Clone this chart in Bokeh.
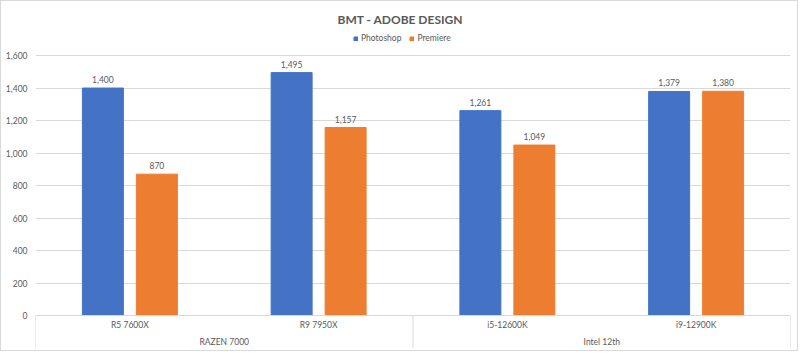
from bokeh.plotting import figure
from bokeh.models import (ColumnDataSource, Range1d, FixedTicker, NumeralTickFormatter,
                          LabelSet, Legend, LegendItem, Span)
from bokeh.core.properties import value
from bokeh.embed import file_html
from bokeh.resources import INLINE

# ---- data ----
groups = ["RAZEN 7000", "Intel 12th"]
group_sizes = [2, 2]
cpus = ["R5 7600X", "R9 7950X", "i5-12600K", "i9-12900K"]
photoshop = [1400, 1495, 1261, 1379]
premiere = [870, 1157, 1049, 1380]
y_ticks = [0, 200, 400, 600, 800, 1000, 1200, 1400, 1600]

FONT = "Lato"
TXT = "#595959"
BLUE = "#4472C4"
ORANGE = "#ED7D31"

centers = [i + 0.5 for i in range(len(cpus))]
off = 0.143
bw = 0.217

src_p = ColumnDataSource(dict(x=[c - off for c in centers], top=photoshop,
                              lbl=[f"{v:,}" for v in photoshop]))
src_r = ColumnDataSource(dict(x=[c + off for c in centers], top=premiere,
                              lbl=[f"{v:,}" for v in premiere]))

p = figure(width=798, height=351, output_backend="svg", toolbar_location=None,
           x_range=Range1d(0, len(cpus)), y_range=Range1d(-203, 1748),
           min_border_left=34, min_border_right=9, min_border_top=30, min_border_bottom=4,
           styles={"border": "1px solid #d9d9d9"})

p.title.text = "BMT - ADOBE DESIGN"
p.title.align = "left"
p.title.offset = 302
p.title.text_font = FONT
p.title.text_font_size = "12px"
p.title.text_font_style = "bold"
p.title.text_color = TXT

p.outline_line_color = None
p.xaxis.visible = False
p.xgrid.visible = False
p.yaxis.ticker = FixedTicker(ticks=y_ticks)
p.yaxis.formatter = NumeralTickFormatter(format="0,0")
p.yaxis.axis_line_color = None
p.yaxis.major_tick_line_color = None
p.yaxis.minor_tick_line_color = None
p.yaxis.major_tick_out = 0
p.yaxis.major_tick_in = 0
p.yaxis.major_label_text_font = FONT
p.yaxis.major_label_text_font_size = "8.5px"
p.yaxis.major_label_text_color = TXT
p.yaxis.major_label_standoff = 8
p.ygrid.ticker = FixedTicker(ticks=y_ticks[1:])
p.ygrid.grid_line_color = "#d9d9d9"

r1 = p.vbar(x="x", top="top", width=bw, source=src_p, color=BLUE)
r2 = p.vbar(x="x", top="top", width=bw, source=src_r, color=ORANGE)

for s in (src_p, src_r):
    p.add_layout(LabelSet(x="x", y="top", text="lbl", source=s, text_align="center",
                          text_baseline="bottom", y_offset=5, text_font=value(FONT),
                          text_font_size="8.5px", text_color=TXT))

# baseline
p.add_layout(Span(location=0, dimension="width", line_color="#d9d9d9", line_width=1))

# category axis drawn as table
bounds = [0]
for g in group_sizes:
    bounds.append(bounds[-1] + g)
p.segment(x0=bounds, y0=[0] * len(bounds), x1=bounds, y1=[-203] * len(bounds),
          line_color="#d9d9d9", line_width=1)
p.text(x=centers, y=[-60] * len(cpus), text=cpus, text_align="center",
       text_baseline="middle", text_font=value(FONT), text_font_size="8.5px", text_color=TXT)
gcent = [(bounds[i] + bounds[i + 1]) / 2 for i in range(len(groups))]
p.text(x=gcent, y=[-164] * len(groups), text=groups, text_align="center",
       text_baseline="middle", text_font=value(FONT), text_font_size="8.5px", text_color=TXT)

legend = Legend(items=[LegendItem(label="Photoshop", renderers=[r1]),
                       LegendItem(label="Premiere", renderers=[r2])],
                orientation="horizontal", location=(318, 305),
                label_text_font=FONT, label_text_font_size="8.5px", label_text_color=TXT,
                glyph_width=5, glyph_height=5, label_standoff=3, spacing=8,
                padding=1, margin=0, border_line_color=None, background_fill_alpha=0,
                label_height=9)
p.add_layout(legend)

open("out.html", "w").write(file_html(p, INLINE))
